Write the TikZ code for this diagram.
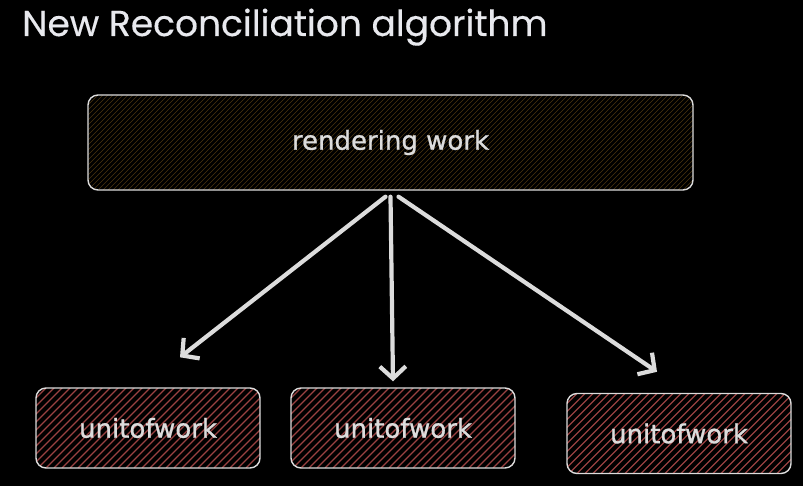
\documentclass[tikz,border=0pt]{standalone}
\usepackage{fontspec}
\setmainfont{Poppins}
\newfontfamily\titlefont{Poppins}[FakeBold=0.4]
\newfontfamily\handfont{DejaVu Sans}[FakeBold=1]
\usetikzlibrary{arrows.meta,positioning}

\definecolor{inkgray}{HTML}{DCDCDC}
\definecolor{titlegray}{HTML}{E8E9EE}
\definecolor{rendbrown}{HTML}{4A3510}
\definecolor{unitred}{HTML}{9A4242}

\tikzset{
  hatch/.style n args={3}{path picture={
      \foreach \k in {-110,#2,...,620}
        \draw[#1, line width=#3] ([xshift=\k pt]path picture bounding box.south west) -- ++(110pt,110pt);}},
  rendbox/.style={draw=inkgray, line width=1.4pt, rounded corners=10pt, fill=black,
      hatch={rendbrown}{-105}{0.5pt}, minimum width=605pt, minimum height=95pt, text=inkgray,
      font=\handfont\fontsize{26}{30}\selectfont},
  unitbox/.style={draw=inkgray, line width=1.4pt, rounded corners=10pt, fill=black,
      hatch={unitred}{-102}{1.3pt}, minimum width=224pt, minimum height=80pt, text=inkgray,
      font=\handfont\fontsize{26}{30}\selectfont},
  flow/.style={draw=inkgray, line width=4.2pt, line cap=round,
      -{Straight Barb[length=12pt,width=26pt,line width=4.2pt]}}
}

\begin{document}
\begin{tikzpicture}[x=1pt, y=-1pt] % one unit is one pixel of the reference
  % Black canvas
  \fill[black] (0,0) rectangle (803,486);
  \useasboundingbox (0,0) rectangle (803,486);
  % Title
  \node[anchor=base west, text=titlegray, font=\titlefont\fontsize{36}{40}\selectfont, inner sep=0pt] (title) at (22,36) {New Reconciliation algorithm};

  % Top box
  \node[rendbox] (render) at (390.5,142.5) {rendering work};

  % Units of work
  \node[unitbox] (unit1) at (148,428) {unitofwork};
  \node[unitbox] (unit2) at (403,428) {unitofwork};
  \node[unitbox] (unit3) at (679,433.5) {unitofwork};

  % Arrows down to the units
  \draw[flow] ([xshift=-5pt,yshift=-6pt]render.south) -- ([xshift=32pt,yshift=30pt]unit1.north);
  \draw[flow] ([xshift=0pt,yshift=-6pt]render.south) -- ([xshift=-10pt,yshift=6pt]unit2.north);
  \draw[flow] ([xshift=8pt,yshift=-6pt]render.south) -- ([xshift=-22pt,yshift=21pt]unit3.north);
\end{tikzpicture}
\end{document}
